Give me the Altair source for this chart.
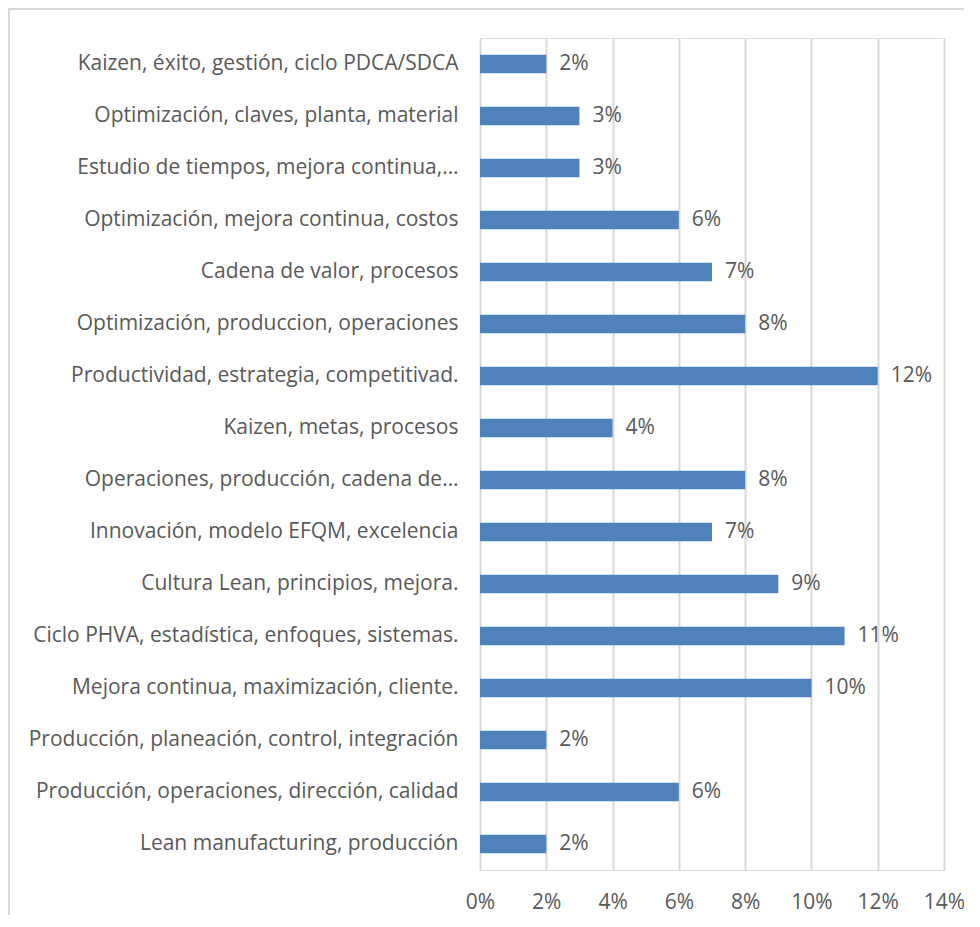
import altair as alt
import pandas as pd

categories = [
    "Kaizen, éxito, gestión, ciclo PDCA/SDCA",
    "Optimización, claves, planta, material",
    "Estudio de tiempos, mejora continua,…",
    "Optimización, mejora continua, costos",
    "Cadena de valor, procesos",
    "Optimización, produccion, operaciones",
    "Productividad, estrategia, competitivad.",
    "Kaizen, metas, procesos",
    "Operaciones, producción, cadena de…",
    "Innovación, modelo EFQM, excelencia",
    "Cultura Lean, principios, mejora.",
    "Ciclo PHVA, estadística, enfoques, sistemas.",
    "Mejora continua, maximización, cliente.",
    "Producción, planeación, control, integración",
    "Producción, operaciones, dirección, calidad",
    "Lean manufacturing, producción",
]
values = [0.02, 0.03, 0.03, 0.06, 0.07, 0.08, 0.12, 0.04, 0.08, 0.07, 0.09, 0.11, 0.10, 0.02, 0.06, 0.02]
x_ticks = [0, 0.02, 0.04, 0.06, 0.08, 0.10, 0.12, 0.14]

df = pd.DataFrame({"cat": categories, "val": values})

FONT = "Open Sans"
TXT = "#595959"
GRID = "#D9D9D9"
FS = 21

y_enc = alt.Y(
    "cat:N",
    sort=categories,
    title=None,
    scale=alt.Scale(paddingInner=0.64, paddingOuter=0.32),
    axis=alt.Axis(
        domain=False, ticks=False, labelPadding=22, labelFontSize=FS,
        labelColor=TXT, labelFont=FONT, labelLimit=470, grid=False,
    ),
)
x_enc = alt.X(
    "val:Q",
    title=None,
    scale=alt.Scale(domain=[0, 0.14], nice=False),
    axis=alt.Axis(
        values=x_ticks, format=".0%", domain=False, ticks=False, labelFlush=False,
        labelPadding=21, labelFontSize=FS, labelColor=TXT, labelFont=FONT,
        grid=True, gridColor=GRID, gridWidth=2,
    ),
)

bars = alt.Chart(df).mark_bar(color="#4F81BD").encode(x=x_enc, y=y_enc)
labels = alt.Chart(df).mark_text(
    align="left", baseline="middle", dx=13, fontSize=FS, font=FONT, color=TXT
).encode(
    x="val:Q", y=alt.Y("cat:N", sort=categories),
    text=alt.Text("val:Q", format=".0%"),
)
frame = alt.Chart(df).mark_rect(
    fill=None, stroke=GRID, strokeWidth=2
).encode(
    x=alt.value(-471), x2=alt.value(520), y=alt.value(-29), y2=alt.value(950)
)

chart = alt.layer(frame, bars, labels).properties(
    width=464, height=832,
    padding={"left": 472, "top": 30, "right": 20, "bottom": 45},
    autosize=alt.AutoSizeParams(type="none"),
).configure_view(stroke=None).configure(background="white")

chart.save("out.html", embed_options={"renderer": "svg", "actions": False})
